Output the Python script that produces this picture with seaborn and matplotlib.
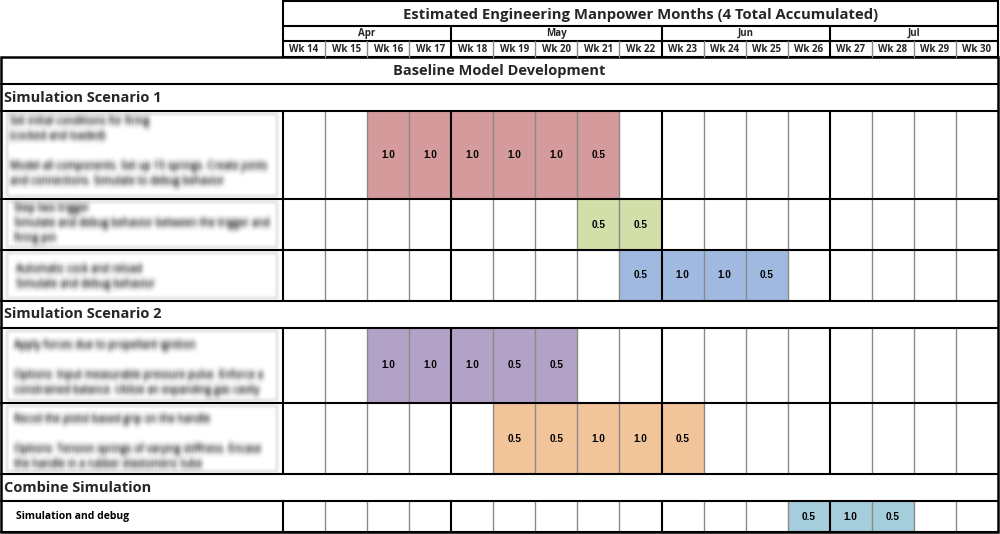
import numpy as np
import pandas as pd
import matplotlib
matplotlib.use('Agg')
import matplotlib.pyplot as plt
from matplotlib.colors import ListedColormap
from matplotlib.patches import Rectangle
import seaborn as sns

# Chart data
title = 'Estimated Engineering Manpower Months (4 Total Accumulated)'
weeks = ['Wk 14', 'Wk 15', 'Wk 16', 'Wk 17', 'Wk 18', 'Wk 19', 'Wk 20', 'Wk 21',
         'Wk 22', 'Wk 23', 'Wk 24', 'Wk 25', 'Wk 26', 'Wk 27', 'Wk 28', 'Wk 29', 'Wk 30']
months = ['Apr', 'May', 'Jun', 'Jul']
month_weeks = [4, 5, 4, 4]

sections = ['Simulation Scenario 1', 'Simulation Scenario 2', 'Combine Simulation']
tasks = [
    'Set initial conditions for firing\n(cocked and loaded)\n\n'
    'Model all components. Set up 15 springs. Create joints\n'
    'and connections. Simulate to debug behavior',
    'Step two trigger\nSimulate and debug behavior between the trigger and\nfiring pin',
    'Automatic cock and reload\nSimulate and debug behavior',
    'Apply forces due to propellant ignition\n\n'
    'Options: Input measurable pressure pulse. Enforce a\n'
    'constrained balance. Utilize an expanding gas cavity',
    'Recoil the pistol based grip on the handle\n\n'
    'Options: Tension springs of varying stiffness. Encase\n'
    'the handle in a rubber elastomeric tube',
    'Simulation and debug',
]
task_start = ['Wk 16', 'Wk 21', 'Wk 22', 'Wk 16', 'Wk 19', 'Wk 26']
task_effort = [
    [1.0, 1.0, 1.0, 1.0, 1.0, 0.5],
    [0.5, 0.5],
    [0.5, 1.0, 1.0, 0.5],
    [1.0, 1.0, 1.0, 0.5, 0.5],
    [0.5, 0.5, 1.0, 1.0, 0.5],
    [0.5, 1.0, 0.5],
]
task_colors = ['#d59a9b', '#d3dfa8', '#a0b9e0', '#b2a2c8', '#f1c49a', '#a6cddb']
task_blurred = [True, True, True, True, True, False]

# layout in pixels
W, H = 1000, 534
x_left, x_grid, x_right = 1, 283, 998
head_rows = [1, 26, 41, 57]
baseline_row = (57, 84)
section_rows = [(84, 111), (301, 328), (474, 501)]
task_rows = [(111, 199), (199, 250), (250, 301), (328, 403), (403, 474), (501, 532)]
label_x = [10, 14, 16, 14, 14, 16]
label_dy = [5, 4, 14, 12, 11, 0]

sns.set_theme(style='white')
plt.rcParams['font.family'] = ['Open Sans', 'DejaVu Sans']

fig = plt.figure(figsize=(W / 100, H / 100), dpi=100)
ax = fig.add_axes([0, 0, 1, 1])
ax.set_xlim(0, W)
ax.set_ylim(H, 0)
ax.axis('off')
ax.set_zorder(5)
ax.patch.set_alpha(0)

cw = (x_right - x_grid) / len(weeks)
month_edges = np.cumsum([0] + month_weeks)


def _box(a, r, axis):
    a = np.moveaxis(a, axis, 0)
    p = np.pad(a, ((r + 1, r), (0, 0)))
    c = np.cumsum(p, axis=0)
    return np.moveaxis((c[2 * r + 1:] - c[:-2 * r - 1]) / (2 * r + 1), 0, axis)


def blur(img, dpi):
    pad = 12
    a = np.pad(img[:, :, 3], pad)
    for _ in range(2):
        a = _box(_box(a, 3, 0), 2, 1)
    out = np.zeros((a.shape[0], a.shape[1], 4))
    out[:, :, :3] = 0.2
    out[:, :, 3] = np.clip(a * 1.9, 0, 1)
    return out, -pad, -pad


def soft(img, dpi):
    pad = 6
    a = np.pad(img[:, :, 3], pad)
    for _ in range(2):
        a = _box(_box(a, 1, 0), 1, 1)
    out = np.zeros((a.shape[0], a.shape[1], 4))
    out[:, :, :3] = 0.8
    out[:, :, 3] = np.clip(a * 0.7, 0, 1)
    return out, -pad, -pad


# heatmap rows (one axes per task)
for i, (y0, y1) in enumerate(task_rows):
    vals = np.full((1, len(weeks)), np.nan)
    s = weeks.index(task_start[i])
    vals[0, s:s + len(task_effort[i])] = task_effort[i]
    df = pd.DataFrame(vals, columns=weeks)
    hax = fig.add_axes([x_grid / W, 1 - y1 / H, (x_right - x_grid) / W, (y1 - y0) / H])
    sns.heatmap(df, ax=hax, cmap=ListedColormap([task_colors[i]]), vmin=0, vmax=1,
                mask=df.isna(), cbar=False, annot=True, fmt='.1f',
                xticklabels=False, yticklabels=False,
                annot_kws=dict(fontsize=7.2, fontweight='bold', color='black',
                               family='Liberation Sans'))
    hax.set_xlabel('')
    hax.set_ylabel('')

    # task label
    if task_blurred[i]:
        r = Rectangle((7, y0 + 3), 270, y1 - y0 - 6, fill=False, ec='#d8d8d8', lw=1.5)
        ax.add_patch(r)
        r.set_agg_filter(soft)
        t = ax.text(label_x[i], y0 + label_dy[i], tasks[i], fontsize=7.3, va='top',
                    ha='left', color='#333333', linespacing=1.5)
        t.set_agg_filter(blur)
    else:
        ax.text(label_x[i], (y0 + y1) / 2, tasks[i], fontsize=7.5, fontweight='bold',
                va='center', ha='left', color='black')

    # grid lines in the week area
    for k in range(1, len(weeks)):
        major = k in month_edges
        ax.plot([x_grid + k * cw] * 2, [y0, y1], color='black' if major else '#8a8a8a',
                lw=1.5 if major else 1.0, solid_capstyle='butt')
    ax.plot([x_grid, x_grid], [y0, y1], color='black', lw=1.5)

# header
ax.add_patch(Rectangle((x_grid, head_rows[0]), x_right - x_grid, head_rows[-1] - head_rows[0],
                       fill=False, ec='black', lw=1.5))
for y in head_rows[1:3]:
    ax.plot([x_grid, x_right], [y, y], color='black', lw=1.5)
ax.text((x_grid + x_right) / 2, (head_rows[0] + head_rows[1]) / 2 + 1, title,
        fontsize=10.7, fontweight='bold', ha='center', va='center')
for m, name in enumerate(months):
    xa = x_grid + month_edges[m] * cw
    xb = x_grid + month_edges[m + 1] * cw
    ax.text((xa + xb) / 2, (head_rows[1] + head_rows[2]) / 2, name,
            fontsize=7, fontweight='bold', ha='center', va='center')
    if m > 0:
        ax.plot([xa, xa], [head_rows[1], head_rows[3]], color='black', lw=1.5)
for k, wk in enumerate(weeks):
    ax.text(x_grid + (k + 0.5) * cw, (head_rows[2] + head_rows[3]) / 2, wk,
            fontsize=7, fontweight='bold', ha='center', va='center')
    if k > 0 and k not in month_edges:
        ax.plot([x_grid + k * cw] * 2, [head_rows[2], head_rows[3]], color='#8a8a8a', lw=1.0)

# body frame, section rows
ax.add_patch(Rectangle((x_left, baseline_row[0]), x_right - x_left, task_rows[-1][1] - baseline_row[0],
                       fill=False, ec='black', lw=1.8))
ax.text((x_left + x_right) / 2, (baseline_row[0] + baseline_row[1]) / 2, 'Baseline Model Development',
        fontsize=10.5, fontweight='bold', ha='center', va='center')
hlines = [baseline_row[1]] + [y for r in section_rows for y in r] + [y for r in task_rows for y in r]
for y in sorted(set(hlines)):
    ax.plot([x_left, x_right], [y, y], color='black', lw=1.5)
for (y0, y1), name in zip(section_rows, sections):
    ax.text(4, (y0 + y1) / 2, name, fontsize=10.5, fontweight='bold', ha='left', va='center')

fig.savefig('out.png', dpi=100)
